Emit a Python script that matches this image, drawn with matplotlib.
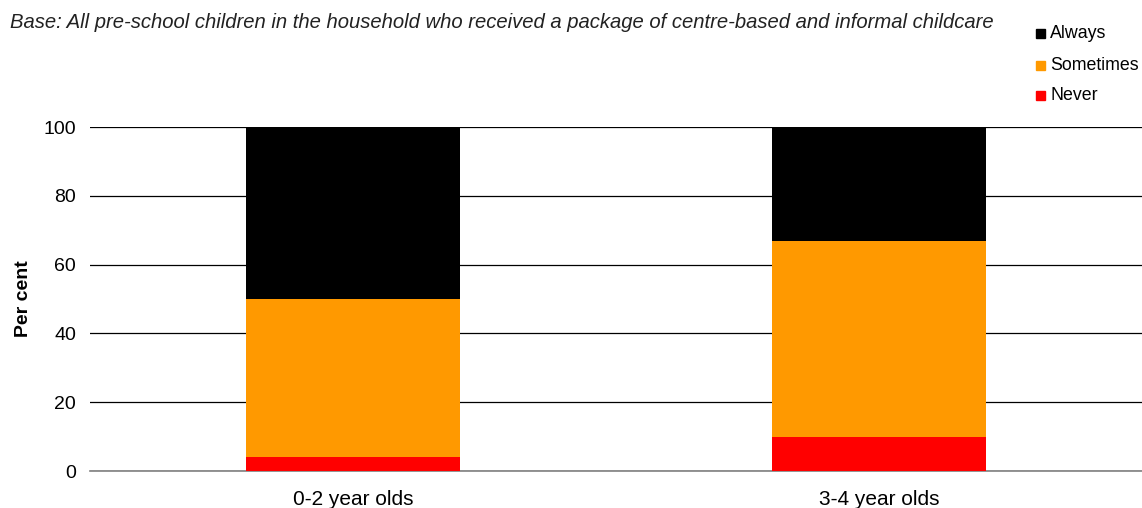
import matplotlib
matplotlib.use('Agg')
import matplotlib.pyplot as plt
from matplotlib.patches import Rectangle
import numpy as np

plt.rcParams['font.family'] = ['Liberation Sans', 'DejaVu Sans']

categories = ['0-2 year olds', '3-4 year olds']
never = [4, 10]
sometimes = [46, 57]
always = [50, 33]
series_names = ['Never', 'Sometimes', 'Always']
colors = ['#ff0000', '#ff9900', '#000000']
yticks = [0, 20, 40, 60, 80, 100]
base_note = 'Base: All pre-school children in the household who received a package of centre-based and informal childcare'

W, H = 1142, 508
fig = plt.figure(figsize=(W / 100, H / 100), dpi=100)
ax = fig.add_axes([90 / W, 1 - 471 / H, 1 - 90 / W, (471 - 127) / H])

x = np.arange(len(categories))
bottom = np.zeros(len(categories))
for vals, name, col in zip([never, sometimes, always], series_names, colors):
    ax.bar(x, vals, width=0.405, bottom=bottom, color=col, label=name, zorder=3)
    bottom += np.array(vals)

ax.set_xlim(-0.5, 1.5)
ax.set_ylim(0, 100)
ax.set_yticks(yticks)
ax.set_xticks(x)
ax.set_xticklabels(categories, fontsize=15)
ax.tick_params(axis='y', length=0, labelsize=14, pad=10)
ax.tick_params(axis='x', length=0, pad=14)
ax.yaxis.grid(True, color='black', linewidth=0.9, zorder=0)
for s in ['top', 'right', 'left']:
    ax.spines[s].set_visible(False)
ax.spines['bottom'].set_color('#808080')
ax.spines['bottom'].set_linewidth(1.2)
ax.set_ylabel('Per cent', fontsize=14, fontweight='bold', labelpad=8)

fig.text(10 / W, 1 - 27.7 / H, base_note, fontsize=14.6, style='italic',
         color='#222222', va='baseline')

# legend, top to bottom: Always, Sometimes, Never
row_y = [33, 65.5, 95.5]
for ypix, name, col in zip(row_y, series_names[::-1], colors[::-1]):
    fig.patches.append(Rectangle((1036 / W, 1 - (ypix + 4.5) / H), 9 / W, 9 / H,
                                 transform=fig.transFigure, color=col))
    fig.text(1050 / W, 1 - ypix / H, name, fontsize=12.8, va='center')

fig.savefig('out.png', dpi=100)
